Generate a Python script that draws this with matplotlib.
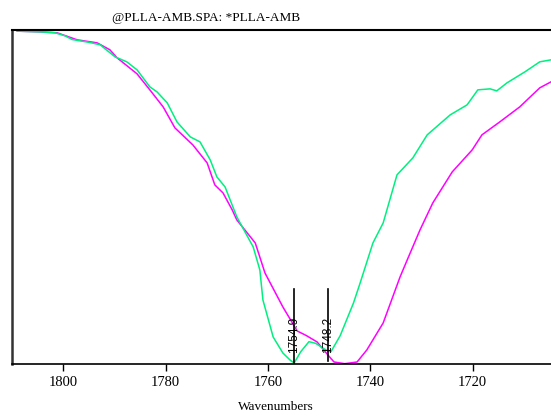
import matplotlib
matplotlib.use("Agg")
import matplotlib.pyplot as plt

# PLLA-AMB spectrum (green) and reference (magenta), arbitrary %T scale
green_wn = [1809.0, 1804.6, 1801.6, 1799.7, 1798.3, 1794.8, 1792.8, 1789.9, 1787.6, 1785.6,
            1783.1, 1781.7, 1779.7, 1777.8, 1775.2, 1773.3, 1771.3, 1770.0, 1768.4, 1766.1,
            1762.9, 1761.6, 1761.0, 1759.0, 1757.1, 1755.7, 1754.9, 1753.6, 1752.0, 1750.7,
            1748.7, 1748.2, 1747.7, 1745.9, 1743.3, 1742.0, 1739.5, 1737.5, 1734.8, 1731.7,
            1728.9, 1724.4, 1721.1, 1719.0, 1716.6, 1715.3, 1713.3, 1709.8, 1706.9, 1704.7, 1704.0]
green_t = [99.8, 99.6, 99.3, 98.4, 97.3, 96.4, 95.7, 92.1, 90.6, 88.2,
           83.1, 81.6, 78.3, 72.6, 68.1, 66.6, 61.2, 56.1, 53.1, 44.1,
           35.1, 28.2, 19.2, 8.1, 3.3, 1.2, 0.3, 3.7, 6.7, 6.2,
           4.2, 3.8, 3.7, 8.5, 18.3, 24.3, 36.3, 42.3, 56.7, 61.8,
           68.7, 74.7, 77.7, 82.2, 82.5, 81.9, 84.3, 87.6, 90.6, 91.2, 91.4]

magenta_wn = [1809.0, 1804.6, 1801.2, 1797.3, 1793.4, 1790.9, 1789.5, 1785.6, 1783.1, 1780.5,
              1778.2, 1774.7, 1771.9, 1770.4, 1768.8, 1767.0, 1766.1, 1762.5, 1760.6, 1757.1,
              1754.3, 1752.6, 1750.4, 1748.3, 1747.1, 1745.0, 1742.6, 1740.7, 1737.5, 1734.2,
              1732.8, 1730.3, 1727.8, 1724.0, 1720.1, 1718.2, 1714.7, 1710.8, 1706.9, 1704.7, 1704.0]
magenta_t = [99.8, 99.6, 99.3, 97.2, 96.3, 94.2, 91.8, 87.0, 82.2, 77.1,
             70.8, 65.7, 60.3, 53.7, 51.3, 46.2, 43.2, 36.3, 27.3, 17.1,
             9.9, 8.6, 6.6, 2.7, 0.6, 0.1, 0.6, 4.2, 12.3, 26.1,
             31.2, 40.2, 48.3, 57.6, 64.2, 68.7, 72.6, 77.1, 82.8, 84.6, 85.2]

peak_wn = [1754.9, 1748.2]
peak_labels = ["1754.9", "1748.2"]
peak_bottom = [0.0, 0.9]

ticks = [1800, 1780, 1760, 1740, 1720]

fig = plt.figure(figsize=(5.51, 4.16), dpi=100)
ax = fig.add_axes([0.0212, 0.125, 0.9788, 0.8017])

ax.plot(magenta_wn, magenta_t, color="#ff00ff", lw=1.1)
ax.plot(green_wn, green_t, color="#00f080", lw=1.1)

for wn, lab, yb in zip(peak_wn, peak_labels, peak_bottom):
    ax.plot([wn, wn], [yb, 22.5], color="black", lw=1.2)
    ax.text(wn, 8.8, lab, rotation=90, ha="center", va="center",
            fontsize=8.5, family="Liberation Sans")

ax.set_xlim(1810.1, 1704.7)
ax.set_ylim(0, 100)
ax.set_xticks(ticks)
ax.set_xticklabels([str(t) for t in ticks], family="Liberation Serif", fontsize=10.5)
ax.set_yticks([])
ax.tick_params(axis="x", direction="out", length=5, width=1, pad=4)

ax.spines["right"].set_visible(False)
ax.spines["top"].set_linewidth(1.5)
ax.spines["left"].set_linewidth(1.8)
ax.spines["left"].set_color("#333333")
ax.spines["bottom"].set_linewidth(1.2)

fig.text(112 / 551, 1 - 17.5 / 416, "@PLLA-AMB.SPA: *PLLA-AMB", ha="left", va="center",
         family="Liberation Serif", fontsize=9.5)
fig.text(276 / 551, 1 - 407 / 416, "Wavenumbers", ha="center", va="center",
         family="Liberation Serif", fontsize=9.5)

plt.savefig("out.png", dpi=100)
